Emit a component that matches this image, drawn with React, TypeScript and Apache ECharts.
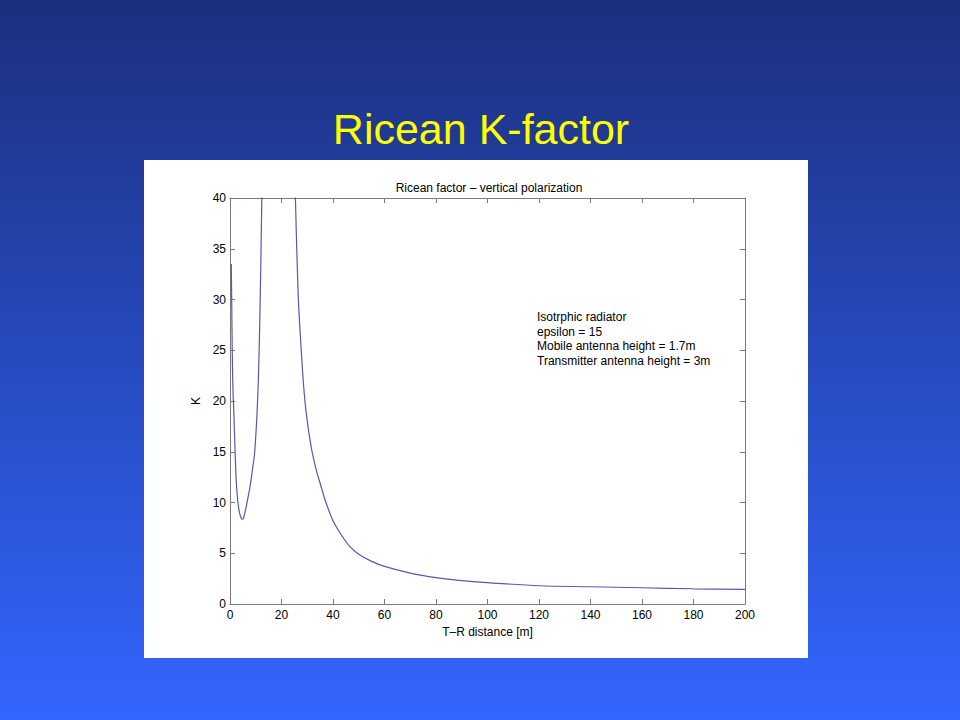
import React, { useEffect, useRef } from "react";
import * as echarts from "echarts";

const distances = [0.5, 0.7, 0.85, 1.1, 1.5, 2.0, 2.4, 3.0, 3.6, 4.2, 4.7, 5.3, 6.3, 7.0, 7.8, 8.7, 9.5, 10.0, 10.5, 11.0, 11.5, 12.0, 12.5, 13, 14, 16, 18, 20, 22, 24, 25.4, 26.5, 27.6, 28.5, 29.6, 31.5, 33.5, 35, 37, 40, 43, 46.4, 50, 55, 60, 70, 80, 90, 100, 120, 140, 160, 180, 200];
const kValues = [33.5, 29, 25.3, 21.5, 18.8, 14.8, 12.2, 10.2, 9.1, 8.55, 8.35, 8.5, 9.6, 10.5, 11.6, 13.2, 14.7, 16.5, 18.8, 22, 27, 34, 43, 55, 80, 150, 250, 200, 100, 55, 40, 30.3, 25.3, 21.8, 18.8, 15.5, 13.2, 11.9, 10.2, 8.2, 6.9, 5.7, 4.9, 4.2, 3.7, 3.05, 2.6, 2.3, 2.1, 1.8, 1.7, 1.6, 1.5, 1.45];
const annotationLines = [
  "Isotrphic radiator",
  "epsilon = 15",
  "Mobile antenna height = 1.7m",
  "Transmitter antenna height = 3m",
];

export default function App() {
  const ref = useRef<HTMLDivElement>(null);
  useEffect(() => {
    document.body.style.margin = "0";
    const chart = echarts.init(ref.current!, null, { renderer: "svg" });
    const font = "Liberation Sans, Arial, sans-serif";
    const axisLine = { show: true, onZero: false, lineStyle: { color: "#7a7a7a", width: 1 } };
    const tick = { show: true, inside: true, length: 5, lineStyle: { color: "#7a7a7a" } };
    const label = { color: "#000", fontSize: 12, fontFamily: font };
    chart.setOption({
      animation: false,
      backgroundColor: new echarts.graphic.LinearGradient(0, 0, 0, 1, [
        { offset: 0, color: "#1b2f7d" },
        { offset: 1, color: "#3366ff" },
      ]),
      graphic: [
        { type: "rect", z: -10, shape: { x: 144, y: 160, width: 664, height: 498 }, style: { fill: "#ffffff" } },
        ...annotationLines.map((t, i) => ({
          type: "text",
          z: 10,
          x: 537,
          y: 311 + i * 14.5,
          style: { text: t, fill: "#000", font: `12px ${font}` },
        })),
      ],
      title: [
        {
          text: "Ricean K-factor",
          left: 476,
          top: 102,
          textAlign: "center",
          textStyle: { color: "#ffff00", fontSize: 43, fontWeight: "normal", fontFamily: font },
        },
        {
          text: "Ricean factor – vertical polarization",
          left: 484,
          top: 177,
          textAlign: "center",
          textStyle: { color: "#000", fontSize: 12, fontWeight: "normal", fontFamily: font },
        },
      ],
      grid: { left: 230, top: 198, width: 515, height: 406 },
      xAxis: [
        {
          type: "value",
          min: 0,
          max: 200,
          interval: 20,
          position: "bottom",
          axisLine,
          axisTick: tick,
          axisLabel: { ...label, margin: 5 },
          splitLine: { show: false },
          name: "T–R distance [m]",
          nameLocation: "middle",
          nameGap: 20,
          nameTextStyle: { color: "#000", fontSize: 12, fontFamily: font },
        },
        {
          type: "value",
          min: 0,
          max: 200,
          interval: 20,
          position: "top",
          axisLine,
          axisTick: tick,
          axisLabel: { show: false },
          splitLine: { show: false },
        },
      ],
      yAxis: [
        {
          type: "value",
          min: 0,
          max: 40,
          interval: 5,
          position: "left",
          axisLine,
          axisTick: tick,
          axisLabel: { ...label, margin: 4 },
          splitLine: { show: false },
          name: "K",
          nameLocation: "middle",
          nameGap: 18,
          nameTextStyle: { color: "#000", fontSize: 12, fontFamily: font },
        },
        {
          type: "value",
          min: 0,
          max: 40,
          interval: 5,
          position: "right",
          axisLine,
          axisTick: tick,
          axisLabel: { show: false },
          splitLine: { show: false },
        },
      ],
      series: [
        {
          type: "line",
          data: distances.map((d, i) => [d, kValues[i]]),
          showSymbol: false,
          smooth: 0.3,
          clip: true,
          lineStyle: { color: "#5858b0", width: 1.2 },
        },
      ],
    });
    return () => chart.dispose();
  }, []);
  return <div ref={ref} style={{ position: "absolute", left: 0, top: 0, width: 960, height: 720 }} />;
}
